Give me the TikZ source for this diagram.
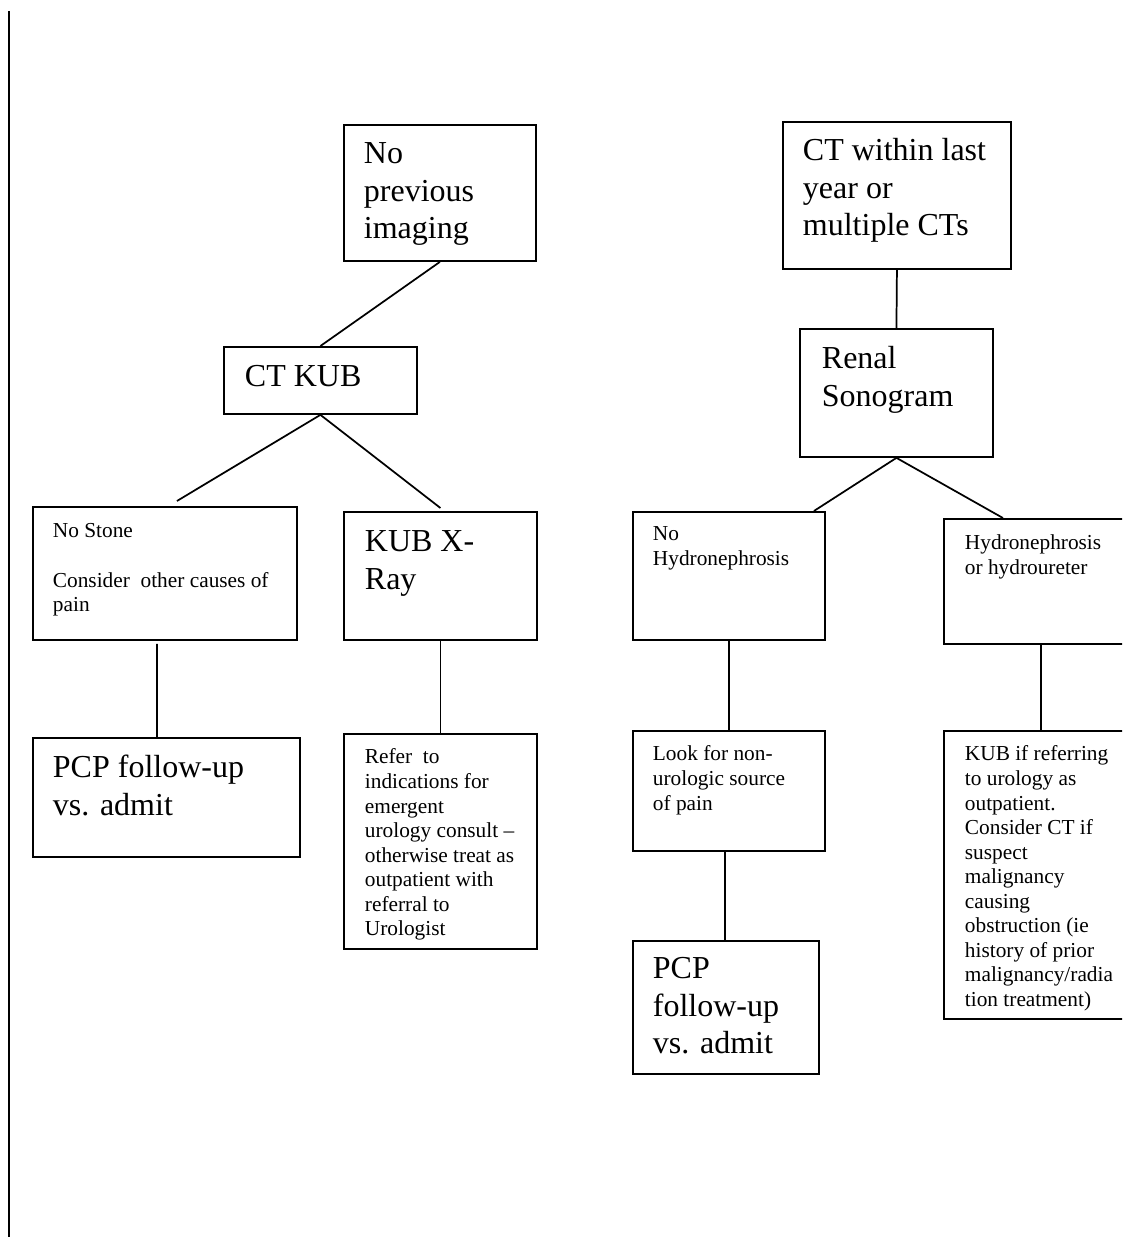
\documentclass[tikz,border=0pt]{standalone}
\usepackage{fontspec}
\setmainfont{Liberation Serif}
\tikzset{
  flowbox/.style n args={3}{draw, line width=1.4pt, anchor=north west,
    inner ysep=0pt, inner xsep=#1, text height=#2, text depth=#3},
  big/.style={font=\fontsize{24}{28.1}\selectfont},
  small/.style={font=\fontsize{16}{18.4}\selectfont},
  link/.style={line width=1.3pt}
}
\newcommand{\boxtext}[2]{\parbox[t]{#1}{\raggedright #2}}

\begin{document}
\begin{tikzpicture}[x=0.75pt,y=-0.75pt]
  \path[use as bounding box, clip] (0,0) rectangle (1122,1237);
  \draw[line width=2pt] (9,11) -- (9,1237);

  \node[flowbox={15pt}{29.25pt}{72.75pt}, big] (npi) at (343,124)
    {\boxtext{114pt}{No\\previous\\imaging}};
  \node[flowbox={15.75pt}{30pt}{20.25pt}, big] (ctkub) at (223,346)
    {\boxtext{113.25pt}{CT KUB}};
  \node[flowbox={15pt}{23.25pt}{76.5pt}, small] (nostone) at (32,506)
    {\boxtext{168pt}{No Stone\\[18.4pt]Consider\ \ other causes of\\pain}};
  \node[flowbox={15.75pt}{30pt}{66pt}, big] (kubx) at (343,511)
    {\boxtext{113.25pt}{KUB X-\\Ray}};
  \node[flowbox={15pt}{30pt}{59.25pt}, big] (pcpl) at (32,737)
    {\boxtext{170.25pt}{PCP follow-up\\vs. admit}};
  \node[flowbox={15.75pt}{22.5pt}{138.75pt}, small] (refer) at (343,733)
    {\boxtext{113.25pt}{Refer\ \ to\\indications for\\emergent\\urology consult –\\otherwise treat as\\outpatient with\\referral to\\Urologist}};

  \node[flowbox={15pt}{29.25pt}{81pt}, big] (ctlast) at (782,121)
    {\boxtext{141pt}{CT within last\\year or\\multiple CTs}};
  \node[flowbox={16.5pt}{30pt}{66pt}, big] (renal) at (799,328)
    {\boxtext{111.75pt}{Renal\\Sonogram}};
  \node[flowbox={15pt}{21.75pt}{74.25pt}, small] (nohydro) at (632,511)
    {\boxtext{114pt}{No\\Hydronephrosis}};
  \node[flowbox={15.75pt}{23.25pt}{70.5pt}, small] (hydro) at (943,518)
    {\boxtext{114pt}{Hydronephrosis\\or hydroureter}};
  \node[flowbox={15pt}{22.5pt}{67.5pt}, small] (look) at (632,730)
    {\boxtext{114pt}{Look for non-\\urologic source\\of pain}};
  \node[flowbox={15pt}{28.5pt}{71.25pt}, big] (pcpr) at (632,940)
    {\boxtext{109.5pt}{PCP\\follow-up\\vs. admit}};
  \node[flowbox={15.75pt}{22.5pt}{193.5pt}, small] (kubif) at (943,730)
    {\boxtext{114pt}{KUB if referring\\to urology as\\outpatient.\\Consider CT if\\suspect\\malignancy\\causing\\obstruction (ie\\history of prior\\malignancy/radia\\tion treatment)}};

  \draw[link] (npi.south) -- (ctkub.north);
  \draw[link] (ctkub.south) -- ([xshift=9pt,yshift=3.75pt]nostone.north);
  \draw[link] (ctkub.south) -- ([yshift=2.25pt]kubx.north);
  \draw[link] ([xshift=-6pt,yshift=-2.25pt]nostone.south) -- ([xshift=-7pt]pcpl.north);
  \draw[link] (kubx.south) -- (refer.north);
  \draw[link] (ctlast.south) -- (renal.north);
  \draw[link] (renal.south) -- ([xshift=63.75pt]nohydro.north);
  \draw[link] (renal.south) -- ([xshift=-28.5pt]hydro.north);
  \draw[link] (nohydro.south) -- (look.north);
  \draw[link] ([xshift=-3pt]look.south) -- ([xshift=-0.75pt]pcpr.north);
  \draw[link] (hydro.south) -- (kubif.north);
\end{tikzpicture}
\end{document}
